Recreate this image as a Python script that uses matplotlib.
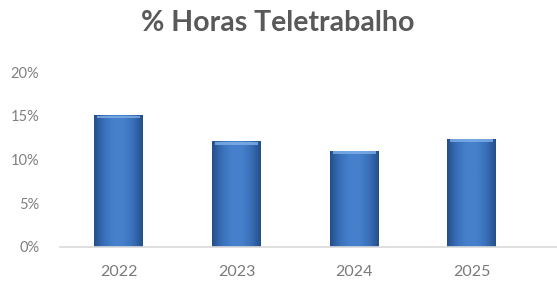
import numpy as np
import matplotlib
matplotlib.use("Agg")
import matplotlib.pyplot as plt
from matplotlib.colors import LinearSegmentedColormap

anos = ["2022", "2023", "2024", "2025"]
horas_tele = [0.151, 0.121, 0.110, 0.124]
yticks = [0.0, 0.05, 0.10, 0.15, 0.20]
ylabels = ["0%", "5%", "10%", "15%", "20%"]

plt.rcParams["font.family"] = ["Lato", "DejaVu Sans"]

fig = plt.figure(figsize=(5.57, 2.84), dpi=100)
ax = fig.add_axes([60 / 557, 1 - 247 / 284, 497 / 557, 175 / 284])

x = np.arange(len(anos))
bars = ax.bar(x, horas_tele, width=0.416, color="none", edgecolor="none")

# gradient fill: darker sides, lighter middle, light bevel at the top
cmap = LinearSegmentedColormap.from_list(
    "bar", ["#24508a", "#3a70ba", "#4680cc", "#4680cc", "#3a70ba", "#24508a"])
prof = np.linspace(0, 1, 60)
grad = np.tile(prof, (80, 1))
for b in bars:
    x0, y0 = b.get_x(), b.get_y()
    w, h = b.get_width(), b.get_height()
    im = ax.imshow(grad, cmap=cmap, aspect="auto", origin="lower",
                   extent=[x0, x0 + w, y0, y0 + h], zorder=2)
    im.set_clip_path(b)
    ax.fill_between([x0 + w * 0.06, x0 + w * 0.94], y0 + h - 0.004, y0 + h - 0.0008,
                    color="#7fb0e8", alpha=0.8, zorder=3, linewidth=0)

ax.set_xlim(-0.5, -0.5 + 497 / 117.7)
ax.set_ylim(0, 0.2)
ax.set_xticks(x)
ax.set_xticklabels(anos)
ax.set_yticks(yticks)
ax.set_yticklabels(ylabels)
ax.tick_params(axis="x", length=0, pad=13, labelsize=11.5, colors="#7a7a7a")
ax.tick_params(axis="y", length=0, pad=15, labelsize=10.5, colors="#808080")
for s in ["top", "right", "left"]:
    ax.spines[s].set_visible(False)
ax.spines["bottom"].set_color("#d9d9d9")
ax.spines["bottom"].set_linewidth(1.2)

fig.text(278 / 557, 1 - 23 / 284, "% Horas Teletrabalho", ha="center", va="center",
         fontsize=20.5, fontweight="bold", color="#595959")

fig.savefig("out.png", dpi=100)
